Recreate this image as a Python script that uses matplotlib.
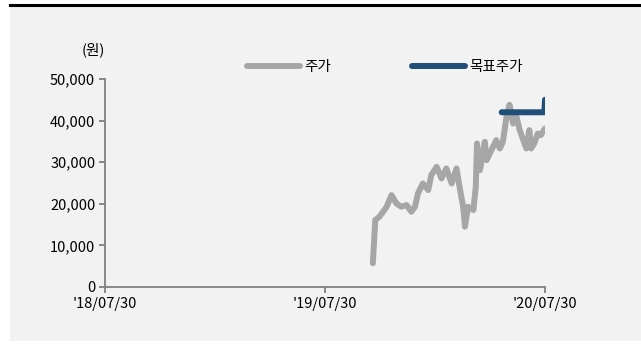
import matplotlib
matplotlib.use("Agg")
import matplotlib.pyplot as plt
import matplotlib.dates as mdates
import pandas as pd
from matplotlib.patches import Rectangle
from matplotlib.lines import Line2D

plt.rcParams['font.family'] = ['Noto Sans CJK KR', 'DejaVu Sans']

# 주가
price_dates = ["2019-10-18", "2019-10-22", "2019-10-29", "2019-11-04", "2019-11-10",
               "2019-11-18", "2019-11-26", "2019-12-04", "2019-12-13", "2019-12-21",
               "2019-12-27", "2020-01-01", "2020-01-09", "2020-01-18", "2020-01-23",
               "2020-02-01", "2020-02-09", "2020-02-17", "2020-02-26", "2020-03-05",
               "2020-03-10", "2020-03-16", "2020-03-19", "2020-03-24", "2020-04-02",
               "2020-04-06", "2020-04-08", "2020-04-13", "2020-04-21", "2020-04-24",
               "2020-05-02", "2020-05-10", "2020-05-16", "2020-05-21", "2020-05-27",
               "2020-06-01", "2020-06-07", "2020-06-12", "2020-06-18", "2020-06-23",
               "2020-06-29", "2020-07-04", "2020-07-07", "2020-07-12", "2020-07-18",
               "2020-07-23", "2020-07-30"]
price = [5700, 16100, 16900, 18100, 19300,
         22100, 20100, 19300, 19700, 18100,
         19300, 22500, 24900, 23300, 26900,
         28900, 26100, 28500, 24900, 28500,
         24100, 19300, 14500, 19300, 18500,
         24100, 34500, 28100, 34900, 30500,
         32900, 35300, 33300, 34900, 40900,
         43800, 39300, 41300, 37700, 35700,
         33300, 37700, 33300, 34500, 36900,
         36500, 38100]

# 목표주가
target_dates = ["2020-05-19", "2020-07-29", "2020-07-30"]
target = [42000, 42000, 45000]

x_ticks = ["2018-07-30", "2019-07-30", "2020-07-30"]
y_ticks = [0, 10000, 20000, 30000, 40000, 50000]

fig = plt.figure(figsize=(6.41, 3.51), dpi=100)
fig.patch.set_facecolor('white')
W, H = 641, 351
fig.add_artist(Rectangle((10 / W, 1 - 341 / H), 631 / W, 334 / H,
                         transform=fig.transFigure, facecolor='#f2f2f2',
                         edgecolor='none', zorder=-5))
fig.add_artist(Line2D([10 / W, 1], [1 - 5 / H, 1 - 5 / H], transform=fig.transFigure,
                      color='black', lw=2.2, zorder=-4))

ax = fig.add_axes([105 / W, 1 - 287 / H, 440 / W, 208 / H])
ax.set_facecolor('none')
ax.set_zorder(2)

pd_ = pd.to_datetime(price_dates)
td = pd.to_datetime(target_dates)
ax.plot(pd_, price, color='#a6a6a6', lw=4.3, solid_capstyle='round',
        solid_joinstyle='round', label='주가')
ax.plot(td, target, color='#1f4e79', lw=4.3, solid_capstyle='round',
        solid_joinstyle='round', label='목표주가')

ax.set_xlim(pd.Timestamp(x_ticks[0]), pd.Timestamp(x_ticks[-1]))
ax.set_ylim(0, 50000)
ax.set_xticks(pd.to_datetime(x_ticks))
ax.xaxis.set_major_formatter(mdates.DateFormatter("'%y/%m/%d"))
ax.set_yticks(y_ticks)
ax.set_yticklabels([f"{v:,}" for v in y_ticks])

for s in ['top', 'right']:
    ax.spines[s].set_visible(False)
for s in ['left', 'bottom']:
    ax.spines[s].set_color('#808080')
    ax.spines[s].set_linewidth(1.3)
ax.tick_params(axis='both', colors='#808080', labelcolor='black', labelsize=10.5,
               length=4, width=1.3, pad=3)

fig.text(93 / W, 1 - 50 / H, '(원)', ha='center', va='center', fontsize=10.5)

leg = ax.legend(loc='center', bbox_to_anchor=(385 / W, 1 - 67 / H),
                bbox_transform=fig.transFigure, ncol=2, frameon=False,
                fontsize=10.5, handlelength=3.6, handletextpad=0.3,
                columnspacing=5.6, borderpad=0, borderaxespad=0)

fig.savefig('out.png', dpi=100)
